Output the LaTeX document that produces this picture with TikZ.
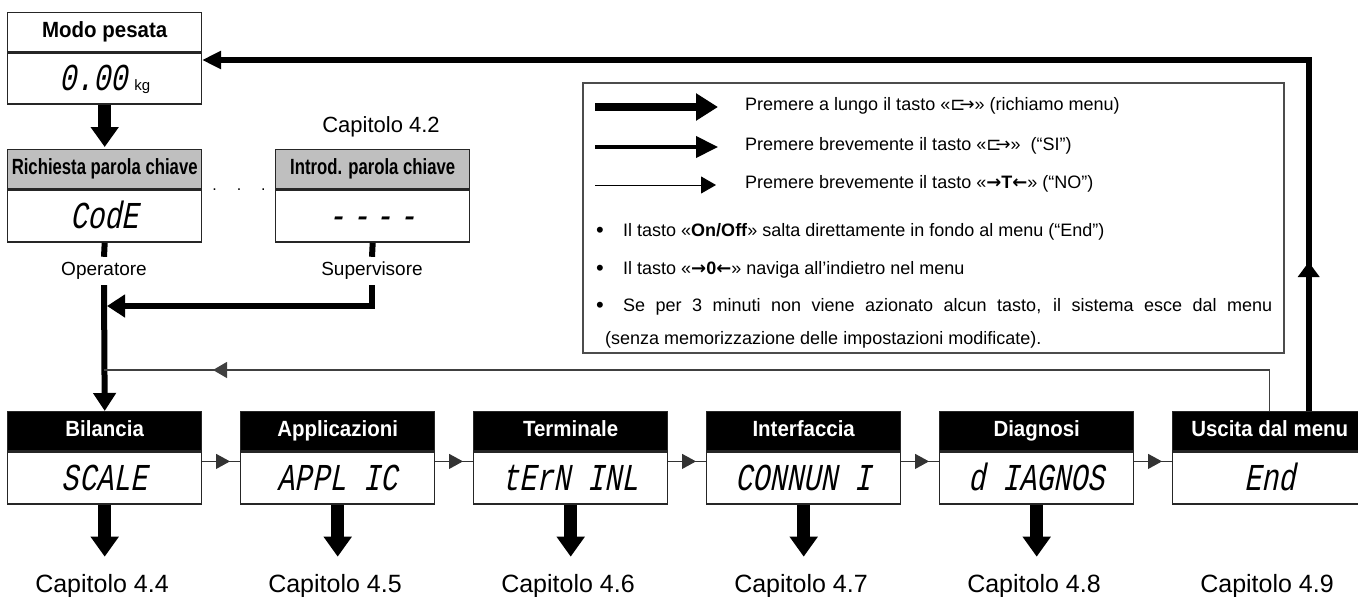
\documentclass[tikz,border=0pt]{standalone}
\usepackage{fontspec}
\setmainfont{Liberation Sans}
\newfontfamily\hdrfont[FakeStretch=0.93]{Liberation Sans}
\newfontfamily\hdrnarrow[FakeStretch=0.76]{Liberation Sans}
\newfontfamily\segfont[FakeSlant=0.2,FakeStretch=0.75]{Liberation Mono}
\newfontfamily\symfont{DejaVu Sans}
\usetikzlibrary{arrows.meta,decorations.markings}

% key symbols used in the legend
\newcommand\keyenter{{\symfont ⊏\kern-0.32em→}}
\newcommand\keyT{{\symfont\bfseries →}\textbf{T}{\symfont\bfseries ←}}
\newcommand\keyZ{{\symfont\bfseries →}\textbf{0}{\symfont\bfseries ←}}

\begin{document}
\begin{tikzpicture}[x=1pt,y=-1pt,
  hdrbox/.style={draw=black!85,line width=1.4pt,minimum width=194pt,minimum height=39pt,
    inner sep=0pt,anchor=north west,text height=15pt,text depth=4pt,
    font=\hdrfont\bfseries\fontsize{22}{22}\selectfont},
  hdrblack/.style={hdrbox,fill=black,text=white},
  hdrgray/.style={hdrbox,fill=black!25,font=\hdrnarrow\bfseries\fontsize{22}{22}\selectfont},
  hdrwhite/.style={hdrbox,fill=white},
  dispbox/.style={draw=black!85,line width=1.4pt,minimum width=194pt,minimum height=52pt,
    inner sep=0pt,anchor=north west,text height=25pt,text depth=1pt,
    font=\segfont\fontsize{38}{38}\selectfont},
  lbl/.style={inner sep=0pt,minimum height=28pt,font=\fontsize{19}{19}\selectfont},
  chap/.style={inner sep=2pt,anchor=base,font=\fontsize{25}{25}\selectfont},
  legtxt/.style={inner sep=0pt,anchor=west,font=\fontsize{18}{18}\selectfont},
  fatarrow/.style={line width=13pt,-{Triangle[length=20pt,width=27pt]}},
  medline/.style={line width=6pt},
  medarrow/.style={line width=6pt,-{Triangle[length=18pt,width=22pt]}},
  nextarrow/.style={draw=black!80,line width=1.2pt,postaction={decorate},
    decoration={markings,mark=at position -10pt with {\arrow{Triangle[length=14pt,width=15pt]}}}},
  retline/.style={draw=black!75,line width=1.2pt,postaction={decorate},
    decoration={markings,mark=at position -109pt with {\arrow{Triangle[length=14pt,width=16pt]}}}},
  fbline/.style={line width=6pt,-{Triangle[length=19pt,width=17pt]},postaction={decorate},
    decoration={markings,mark=at position 149pt with {\arrow{Triangle[length=15pt,width=21pt]}}}},
  leg1/.style={line width=8pt,-{Triangle[length=22pt,width=26pt]}},
  leg2/.style={line width=4pt,-{Triangle[length=22pt,width=21pt]}},
  leg3/.style={line width=1pt,-{Triangle[length=15pt,width=17pt]}}
]
\useasboundingbox (0,0) rectangle (1358,597);

% weighing mode and password boxes
\node[hdrwhite] (m1) at (7,12) {Modo pesata};
\node[dispbox,minimum height=51pt] (m2) at (m1.south west)
  {0.00\kern7pt{\rmfamily\fontsize{15}{15}\selectfont kg}};
\node[hdrgray] (r1) at (7,149) {Richiesta parola chiave};
\node[dispbox] (r2) at (r1.south west) {CodE};
\node[hdrgray] (i1) at (275,149) {Introd. parola chiave};
\node[dispbox] (i2) at (i1.south west) {-\,-\,-\,-};
\node[font=\fontsize{16}{16}\selectfont,inner sep=0pt] (dots) at (239,190)
  {.\hspace{20pt}.\hspace{20pt}.};
\node[font=\fontsize{22}{22}\selectfont] (c42) at (381,127) {Capitolo 4.2};

\draw[fatarrow] (m2.south) -- ([yshift=2pt]r1.north);

\node[lbl] (op) at (104,271) {Operatore};
\node[lbl] (sv) at (372,271) {Supervisore};
\coordinate (svjoin) at (107,306);
\draw[medline] (r2.south) -- (op.north);
\draw[medline] (i2.south) -- (sv.north);
\draw[medarrow] (sv.south) |- (svjoin);

% menu blocks
\foreach \i/\hd/\ds in {1/Bilancia/SCALE,2/Applicazioni/APPL IC,3/Terminale/tErN INL,
    4/Interfaccia/CONNUN I,5/Diagnosi/d IAGNOS,6/Uscita dal menu/End}{
  \node[hdrblack] (h\i) at ({7+233*(\i-1)},411) {\hd};
  \node[dispbox] (d\i) at (h\i.south west) {\ds};
}
\foreach \i/\c in {1/4.4,2/4.5,3/4.6,4/4.7,5/4.8,6/4.9}{
  \node[chap] (cap\i) at ({102+233*(\i-1)},592) {Capitolo \c};
}
\foreach \i in {1,...,5}{
  \pgfmathtruncatemacro\j{\i+1}
  \draw[nextarrow] ([yshift=-10pt]d\i.north east) -- ([yshift=-10pt]d\j.north west);
  \draw[fatarrow,shorten >=15pt] (d\i.south) -- (d\i.south |- cap\i.north);
}

\draw[medarrow] (op.south) -- (h1.north);

% return paths
\coordinate (retend) at (104,370);
\draw[retline] (h6.north) |- (retend);
\coordinate (fbend) at (202,60);
\draw[fbline] ([xshift=39pt]h6.north) |- (fbend);

% legend
\node[draw=black!70,line width=2pt,minimum width=701pt,minimum height=270pt,
  anchor=north west,inner sep=0pt] (leg) at (582,82) {};
\coordinate (la1) at (595,107); \coordinate (lb1) at (718,107);
\coordinate (la2) at (595,147); \coordinate (lb2) at (718,147);
\coordinate (la3) at (595,185); \coordinate (lb3) at (716,185);
\draw[leg1] (la1) -- (lb1);
\draw[leg2] (la2) -- (lb2);
\draw[leg3] (la3) -- (lb3);
\node[legtxt] (t1) at (745,106) {Premere a lungo il tasto «\keyenter» (richiamo menu)};
\node[legtxt] (t2) at (745,146) {Premere brevemente il tasto «\keyenter»\ \ (“SI”)};
\node[legtxt] (t3) at (745,184) {Premere brevemente il tasto «\keyT» (“NO”)};
\foreach \k/\y in {1/232,2/270,3/307}{
  \node[legtxt,anchor=center,font=\fontsize{22}{22}\selectfont] (bu\k) at (600,\y) {•};
}
\node[legtxt] (t4) at (623,232) {Il tasto «\textbf{On/Off}» salta direttamente in fondo al menu (“End”)};
\node[legtxt] (t5) at (623,270) {Il tasto «\keyZ» naviga all'indietro nel menu};
\node[legtxt] (t6) at (623,307)
  {\makebox[649pt][s]{Se per 3 minuti non viene azionato alcun tasto, il sistema esce dal menu}};
\node[legtxt] (t7) at (605,340) {(senza memorizzazione delle impostazioni modificate).};
\end{tikzpicture}
\end{document}
